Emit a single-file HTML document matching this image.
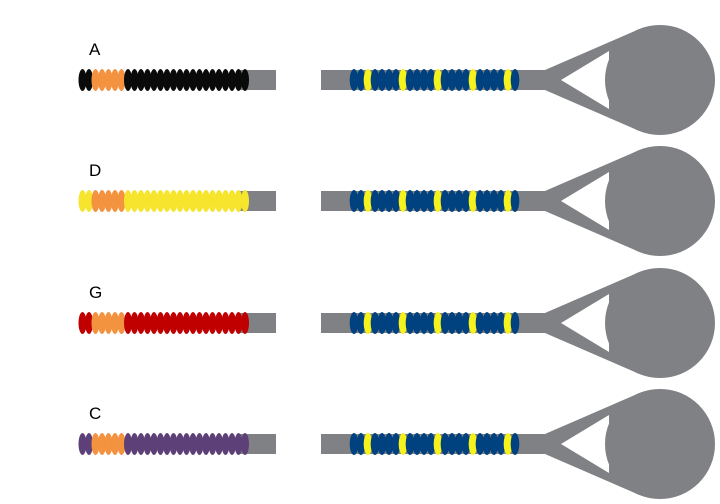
<!DOCTYPE html>
<html><head><style>
html,body{margin:0;padding:0;background:#fff;width:720px;height:504px;overflow:hidden}
svg text{font-family:"Liberation Sans",sans-serif;font-size:17px;fill:#000}
</style></head><body>
<svg id="s" width="720" height="504" xmlns="http://www.w3.org/2000/svg"></svg>
<script>
var s=document.getElementById('s'),h='';
var rows=[[80,'A','#0a0a0a'],[201,'D','#f6e52c'],[323,'G','#c00000'],[444,'C','#5e4078']];
var gray='#808184',blue='#00417f',yel='#f5f21e',org='#f3923f';
rows.forEach(function(r){
 var y=r[0];
 h+='<text x="89" y="'+(y-25)+'">'+r[1]+'</text>';
 h+='<rect x="240" y="'+(y-10)+'" width="36" height="20" fill="'+gray+'"/>';
 for(var k=0;k<=25;k++){var c=(k>=2&&k<=6)?org:r[2];
  h+='<ellipse cx="'+(82.5+6.5*k)+'" cy="'+y+'" rx="4" ry="11" fill="'+c+'"/>';}
 h+='<rect x="321" y="'+(y-10)+'" width="232" height="20" fill="'+gray+'"/>';
 for(var k=0;k<=23;k++){var c=(k%5==2)?yel:blue;
  h+='<ellipse cx="'+(354+7*k)+'" cy="'+y+'" rx="4.3" ry="11" fill="'+c+'"/>';}
 h+='<polygon points="545,'+(y-10)+' 638,'+(y-50.4)+' 660,'+y+' 638,'+(y+50.4)+' 545,'+(y+10)+'" fill="'+gray+'"/>';
 h+='<polygon points="561,'+y+' 609,'+(y-29)+' 609,'+(y+29)+'" fill="#fff"/>';
 h+='<circle cx="660" cy="'+y+'" r="55" fill="'+gray+'"/>';
});
s.innerHTML=h;
</script>
</body></html>
